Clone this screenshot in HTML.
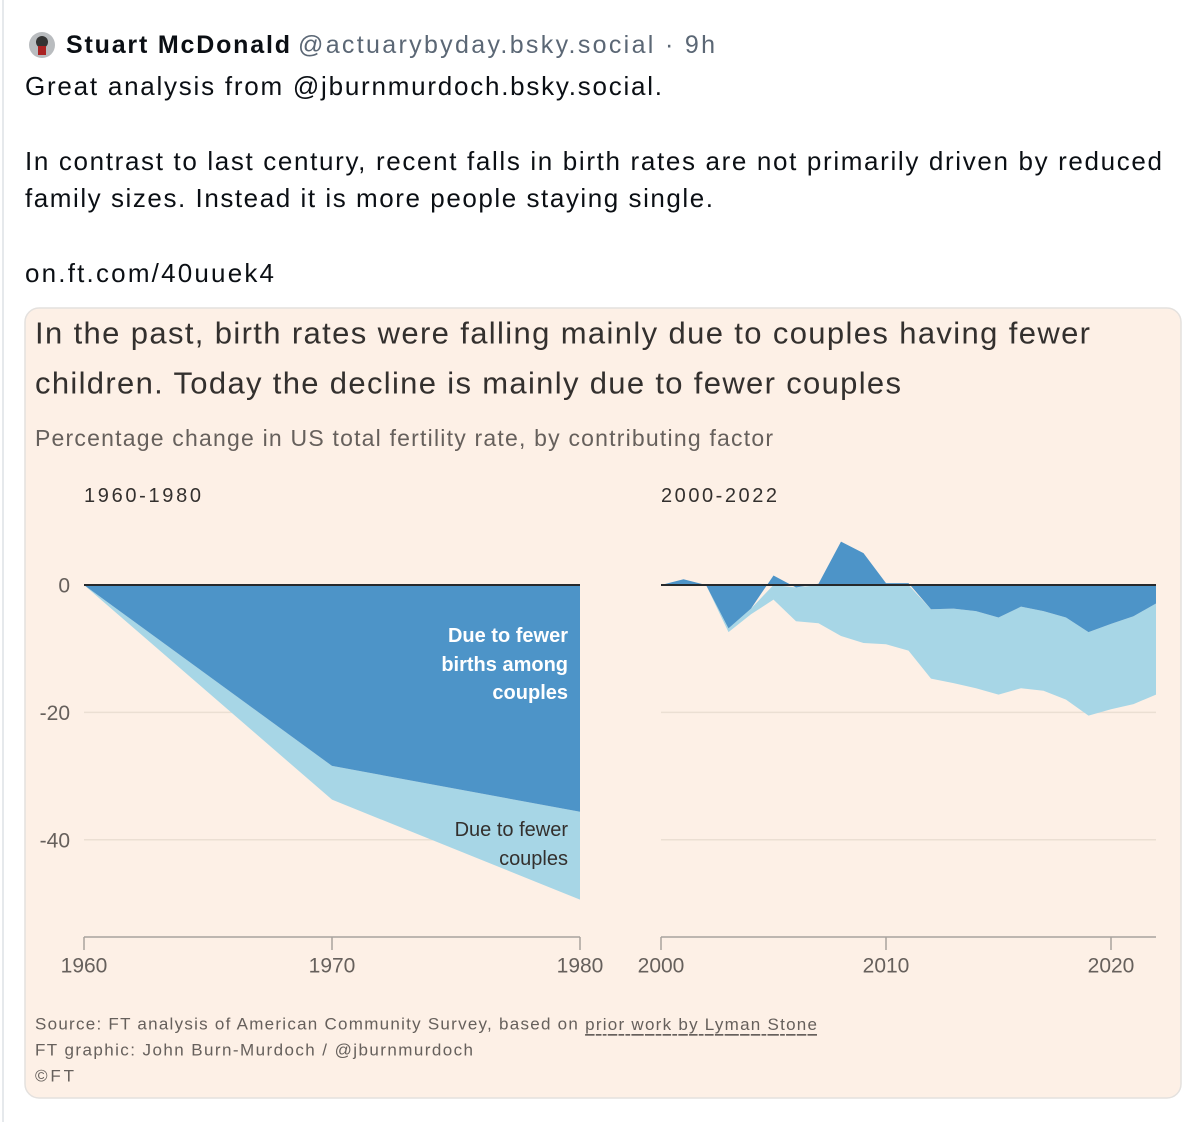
<!DOCTYPE html>
<html><head><meta charset="utf-8"><style>
html,body{margin:0;padding:0;background:#fff;width:1200px;height:1122px;overflow:hidden}
svg{display:block;font-family:"Liberation Sans",sans-serif}
</style></head><body>
<svg id="chart" width="1200" height="1122" viewBox="0 0 1200 1122" xmlns="http://www.w3.org/2000/svg">
<line x1="3" y1="0" x2="3" y2="1122" stroke="#e6e9ec" stroke-width="2"/>
<g><circle cx="42" cy="45" r="13" fill="#b9bcbf"/><circle cx="42" cy="42" r="6" fill="#333"/><rect x="38" y="46" width="8" height="9" fill="#a22"/></g>
<text x="66" y="45" dominant-baseline="central" font-size="25" font-weight="bold" fill="#0b0f14" textLength="224">Stuart McDonald</text>
<text x="298" y="45" dominant-baseline="central" font-size="25" fill="#5b6775" textLength="417">@actuarybyday.bsky.social · 9h</text>
<g font-size="26" fill="#0b0f14">
<text x="25" y="86" dominant-baseline="central" textLength="637">Great analysis from @jburnmurdoch.bsky.social.</text>
<text x="25" y="161" dominant-baseline="central" textLength="1137">In contrast to last century, recent falls in birth rates are not primarily driven by reduced</text>
<text x="25" y="198" dominant-baseline="central" textLength="688">family sizes. Instead it is more people staying single.</text>
<text x="25" y="273" dominant-baseline="central" textLength="249">on.ft.com/40uuek4</text>
</g>
<rect x="25" y="308" width="1156" height="790" rx="14" fill="#fdf0e6" stroke="#e4e1de" stroke-width="1.5"/>
<g fill="#33302e" font-size="31">
<text x="35" y="333" dominant-baseline="central" textLength="1055">In the past, birth rates were falling mainly due to couples having fewer</text>
<text x="35" y="383" dominant-baseline="central" textLength="866">children. Today the decline is mainly due to fewer couples</text>
</g>
<text x="35" y="438" dominant-baseline="central" font-size="23" fill="#66605c" textLength="738">Percentage change in US total fertility rate, by contributing factor</text>
<text x="84" y="496" dominant-baseline="central" font-size="20" fill="#33302e" textLength="117">1960-1980</text>
<text x="661" y="496" dominant-baseline="central" font-size="20" fill="#33302e" textLength="116">2000-2022</text>
<g id="plot"></g>
<g font-size="17" fill="#66605c">
<text x="35" y="1024" dominant-baseline="central" textLength="782">Source: FT analysis of American Community Survey, based on <tspan text-decoration="underline">prior work by Lyman Stone</tspan></text>
<text x="35" y="1050" dominant-baseline="central" textLength="438">FT graphic: John Burn-Murdoch / @jburnmurdoch</text>
<text x="35" y="1076" dominant-baseline="central" textLength="39">©FT</text>
</g>
</svg>
<script>
const leftYears = [1960, 1970, 1980];
const leftBirths = [0, -28.4, -35.6];
const leftCouples = [0, -5.3, -13.8];
const rightYears = [2000,2001,2002,2003,2004,2005,2006,2007,2008,2009,2010,2011,2012,2013,2014,2015,2016,2017,2018,2019,2020,2021,2022];
const rightBirths = [0,0.9,0,-6.8,-3.7,1.5,-0.4,0.2,6.8,5.0,0.3,0.3,-3.8,-3.7,-4.1,-5.1,-3.4,-4.1,-5.1,-7.4,-6.1,-4.9,-2.9];
const rightCouples = [0,0,0,-0.6,-0.9,-2.3,-5.3,-6.0,-8.0,-9.1,-9.3,-10.3,-10.9,-11.7,-12.1,-12.1,-12.8,-12.5,-12.9,-13.1,-13.4,-13.8,-14.3];
const yTicks = [0, -20, -40];
const yTickLabels = ["0", "-20", "-40"];
const leftXTicks = [1960, 1970, 1980];
const rightXTicks = [2000, 2010, 2020];

const NS = "http://www.w3.org/2000/svg";
const plot = document.getElementById('plot');
const y = v => 585 + (0 - v) * 6.37;
const xL = yr => 84 + (yr - 1960) * (580 - 84) / 20;
const xR = yr => 661 + (yr - 2000) * (1156 - 661) / 22;
function mk(tag, attrs){const e=document.createElementNS(NS,tag);for(const k in attrs)e.setAttribute(k,attrs[k]);plot.appendChild(e);return e;}

// gridlines
yTicks.forEach((t,i)=>{
  if(t!==0){
    const g1=mk('line',{x1:84,x2:580,y1:y(t),y2:y(t),stroke:'#ebdfd3','stroke-width':1.5});
    
    
    const g2=mk('line',{x1:661,x2:1156,y1:y(t),y2:y(t),stroke:'#ebdfd3','stroke-width':1.5});
    
    
  }
  const lb=mk('text',{x:70,y:y(t)+1,'text-anchor':'end','dominant-baseline':'central','font-size':21,fill:'#66605c'});
  lb.textContent=yTickLabels[i];
  
  
});

function drawPanel(years, births, couples, xs, side){
  const n=years.length;
  // light band: from min(b,0) to min(b,0)+c
  let top=[],bot=[];
  for(let i=0;i<n;i++){const base=Math.min(births[i],0);top.push([xs(years[i]),y(base)]);bot.push([xs(years[i]),y(base+couples[i])]);}
  const lp=top.concat(bot.reverse()).map(p=>p.join(',')).join(' ');
  const l=mk('polygon',{points:lp,fill:'#a7d6e6'});
  
  
  let d0=[],d1=[];
  for(let i=0;i<n;i++){d0.push([xs(years[i]),y(0)]);d1.push([xs(years[i]),y(births[i])]);}
  const dp=d0.concat(d1.reverse()).map(p=>p.join(',')).join(' ');
  const d=mk('polygon',{points:dp,fill:'#4d94c8'});
  
  
  const z=mk('line',{x1:xs(years[0]),x2:xs(years[n-1]),y1:y(0),y2:y(0),stroke:'#26292c','stroke-width':2});
  
  
}
drawPanel(leftYears,leftBirths,leftCouples,xL,'left');
drawPanel(rightYears,rightBirths,rightCouples,xR,'right');

function axis(ticks,xs,x0,x1,side){
  const a=mk('line',{x1:x0,x2:x1,y1:937,y2:937,stroke:'#a8a29d','stroke-width':1.5});
  
  
  ticks.forEach(t=>{
    const tk=mk('line',{x1:xs(t),x2:xs(t),y1:937,y2:950,stroke:'#a8a29d','stroke-width':1.5});
    
    
    const lb=mk('text',{x:xs(t),y:966,'text-anchor':'middle','dominant-baseline':'central','font-size':21,fill:'#66605c'});
    lb.textContent=t;
    
    
  });
}
axis(leftXTicks,xL,84,580,'left');
axis(rightXTicks,xR,661,1156,'right');

function ann(lines,ys,color,name){
  lines.forEach((s,i)=>{
    const t=mk('text',{x:568,y:ys[i],'text-anchor':'end','dominant-baseline':'central','font-size':20,fill:color,'font-weight':color==='#ffffff'?'bold':'normal'});
    t.textContent=s;
    
    
  });
}
ann(['Due to fewer','births among','couples'],[636,665,693],'#ffffff','annotation-fewer-births');
ann(['Due to fewer','couples'],[830,859],'#33302e','annotation-fewer-couples');
</script>
</body></html>
